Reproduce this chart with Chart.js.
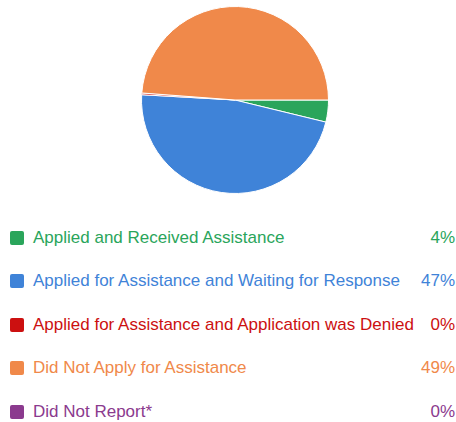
<!DOCTYPE html>
<html lang="en">
<head>
    <meta charset="UTF-8">
    <title>Assistance Status</title>
    <script src="https://cdn.jsdelivr.net/npm/chart.js"></script>
    <style>
        body {
            margin: 0;
            background: #fff;
            font-family: "Liberation Sans", Arial, sans-serif;
            width: 456px;
            height: 422px;
            overflow: hidden;
        }

        #chart-box {
            position: relative;
            width: 456px;
            height: 200px;
        }

        #legend {
            position: absolute;
            top: 216px;
            left: 0;
            width: 456px;
            margin: 0;
            padding: 0;
            list-style: none;
        }

        #legend li {
            height: 43.5px;
            display: flex;
            align-items: center;
            font-size: 17px;
        }

        #legend .swatch {
            width: 14px;
            height: 14px;
            border-radius: 2px;
            margin-left: 10px;
            margin-right: 9px;
            flex: none;
        }

        #legend .name {
            flex: 1;
        }

        #legend .pct {
            margin-right: 1px;
        }
    </style>
</head>
<body>
    <div id="chart-box">
        <canvas id="pieChart"></canvas>
    </div>
    <ul id="legend"></ul>

    <script>
        // Share of respondents (percent)
        const categories = [
            'Applied and Received Assistance',
            'Applied for Assistance and Waiting for Response',
            'Applied for Assistance and Application was Denied',
            'Did Not Apply for Assistance',
            'Did Not Report*'
        ];
        const shares = [3.8, 47.1, 0.3, 48.8, 0];
        const pctLabels = ['4%', '47%', '0%', '49%', '0%'];
        const colors = ['#2aa55b', '#3f83d8', '#cc1010', '#f0894a', '#8b3a8e'];

        new Chart(document.getElementById('pieChart'), {
            type: 'pie',
            data: {
                labels: categories,
                datasets: [{
                    data: shares,
                    backgroundColor: colors,
                    borderColor: '#ffffff',
                    borderWidth: 1
                }]
            },
            options: {
                responsive: true,
                maintainAspectRatio: false,
                animation: false,
                rotation: 90,
                layout: {
                    padding: { top: 6, bottom: 6, left: 14, right: 0 }
                },
                plugins: {
                    legend: { display: false },
                    tooltip: { enabled: false }
                }
            }
        });

        // legend rows with the percentage on the right
        const legend = document.getElementById('legend');
        categories.forEach((name, i) => {
            const li = document.createElement('li');
            li.style.color = colors[i];
            li.innerHTML = '<span class="swatch" style="background:' + colors[i] + '"></span>' +
                '<span class="name"></span><span class="pct"></span>';
            li.querySelector('.name').textContent = name;
            li.querySelector('.pct').textContent = pctLabels[i];
            legend.appendChild(li);
        });
    </script>
</body>
</html>
